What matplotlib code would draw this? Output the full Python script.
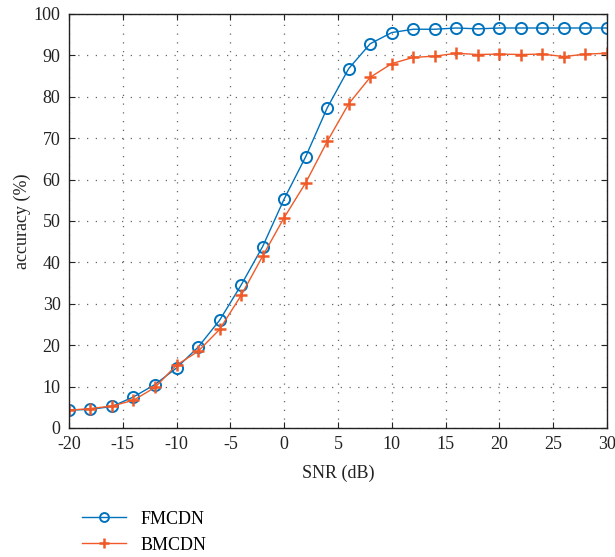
import numpy as np
import matplotlib.pyplot as plt
from matplotlib.ticker import MultipleLocator

plt.rcParams['font.family'] = ['Liberation Serif', 'DejaVu Serif']
plt.rcParams['mathtext.fontset'] = 'stix'

# SNR sweep and classification accuracy (%)
snr = [-20, -18, -16, -14, -12, -10, -8, -6, -4, -2, 0, 2, 4, 6, 8,
       10, 12, 14, 16, 18, 20, 22, 24, 26, 28, 30]
fmcdn = [4.3, 4.5, 5.2, 7.5, 10.5, 14.5, 19.5, 26.0, 34.5, 43.8, 55.3,
         65.5, 77.3, 86.8, 92.8, 95.5, 96.3, 96.3, 96.6, 96.4, 96.6,
         96.6, 96.6, 96.6, 96.6, 96.6]
bmcdn = [4.3, 4.7, 5.3, 6.7, 9.8, 15.2, 18.5, 23.8, 32.0, 41.5, 50.8,
         59.2, 69.2, 78.3, 84.7, 88.0, 89.5, 89.8, 90.5, 90.2, 90.3,
         90.2, 90.3, 89.7, 90.3, 90.5]

blue = '#0072BD'
orange = '#F05A28'

fig = plt.figure(figsize=(6.15, 5.57), dpi=100)
ax = fig.add_axes([0.112, 0.2316, 0.875, 0.7434])

ax.plot(snr, fmcdn, color=blue, marker='o', markersize=8, markerfacecolor='none',
        markeredgewidth=1.4, linewidth=1.0, label='FMCDN')
ax.plot(snr, bmcdn, color=orange, marker='+', markersize=9,
        markeredgewidth=1.8, linewidth=1.0, label='BMCDN')

ax.set_xlim(-20, 30)
ax.set_ylim(0, 100)
ax.xaxis.set_major_locator(MultipleLocator(5))
ax.yaxis.set_major_locator(MultipleLocator(10))
ax.set_xticklabels([str(int(v)) for v in ax.get_xticks()])
ax.set_yticklabels([str(int(v)) for v in ax.get_yticks()])
ax.tick_params(direction='in', top=True, right=True, labelsize=13,
               length=4, width=0.8, colors='#222222')
ax.tick_params(axis='x', pad=6)
ax.tick_params(axis='y', pad=6)
ax.grid(True, linestyle=(0, (1, 6)), color='#666666', linewidth=0.9)
for s in ax.spines.values():
    s.set_linewidth(1.0)
    s.set_color('#222222')

ax.set_xlabel('SNR (dB)', fontsize=13, color='#222222', labelpad=8)
ax.set_ylabel('accuracy (%)', fontsize=13, color='#222222', labelpad=2)

ax.legend(loc='upper left', bbox_to_anchor=(-0.005, -0.16), frameon=False,
          fontsize=13, handlelength=2.4, labelspacing=0.5, markerscale=0.8)

fig.savefig('out.png', dpi=100)
